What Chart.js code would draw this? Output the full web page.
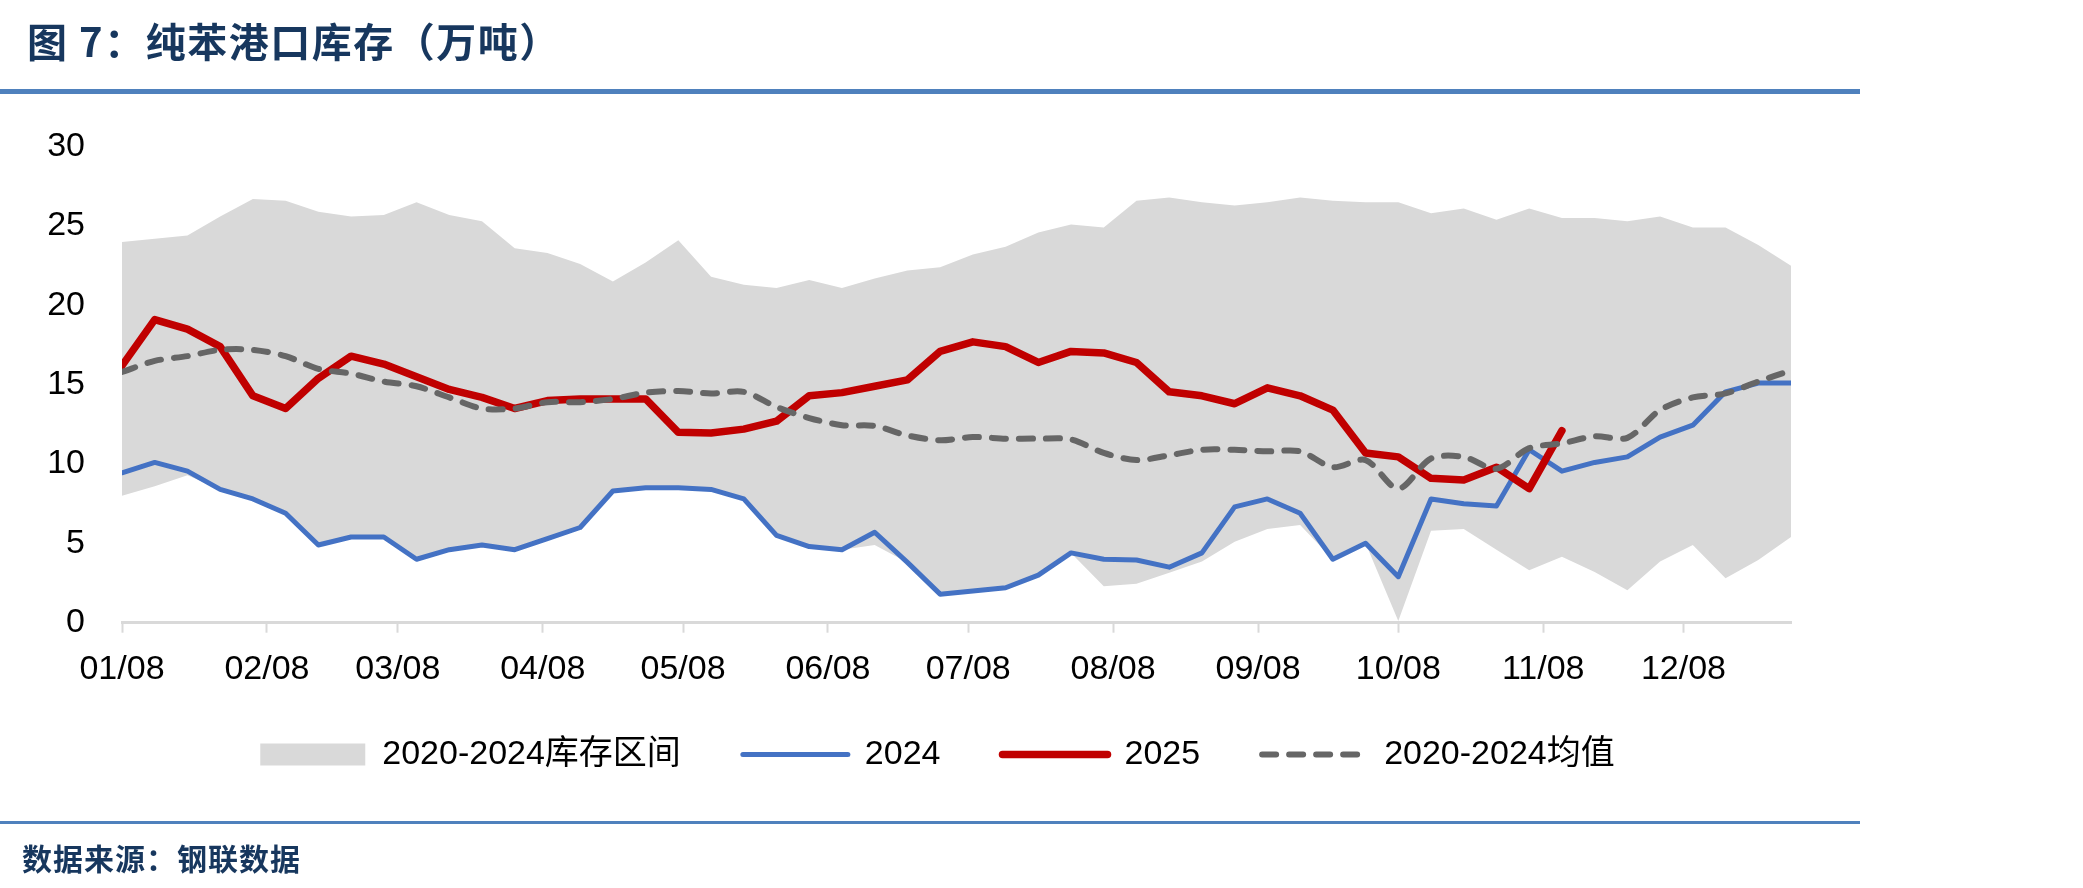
<!DOCTYPE html>
<html>
<head>
<meta charset="utf-8">
<script src="https://cdn.jsdelivr.net/npm/chart.js@4.4.1/dist/chart.umd.min.js"></script>
<style>
  body { margin: 0; width: 2083px; height: 888px; background: #fff; position: relative; overflow: hidden; }
  #wrap { position: absolute; left: 0; top: 0; width: 2083px; height: 888px; }
  #title { position: absolute; left: 27px; top: 16px; font: bold 40px "Noto Sans CJK SC", sans-serif; line-height: 48px; letter-spacing: 1.5px; color: #17375E; white-space: nowrap; }
  #rule1 { position: absolute; left: 0; top: 89px; width: 1860px; height: 5px; background: #4F81BD; }
  #rule2 { position: absolute; left: 0; top: 821px; width: 1860px; height: 3px; background: #4F81BD; }
  #source { position: absolute; left: 22px; top: 838px; font: bold 30px "Noto Sans CJK SC", sans-serif; line-height: 38px; letter-spacing: 1px; color: #17375E; white-space: nowrap; }
</style>
</head>
<body>
<div id="wrap"><canvas id="chart"></canvas></div>
<div id="title">图 7：纯苯港口库存（万吨）</div>
<div id="rule1"></div>
<div id="rule2"></div>
<div id="source">数据来源：钢联数据</div>
<script>
// weekly observation dates (MM/DD)
const weekDates = ['01/08','01/15','01/22','01/29','02/05','02/12','02/19','02/26','03/05','03/12',
  '03/19','03/26','04/02','04/09','04/16','04/23','04/30','05/07','05/14','05/21',
  '05/28','06/04','06/11','06/18','06/25','07/02','07/09','07/16','07/23','07/30',
  '08/06','08/13','08/20','08/27','09/03','09/10','09/17','09/24','10/01','10/08',
  '10/15','10/22','10/29','11/05','11/12','11/19','11/26','12/03','12/10','12/17',
  '12/24','12/31'];
const tickDates = ['01/08','02/08','03/08','04/08','05/08','06/08','07/08','08/08','09/08','10/08','11/08','12/08'];

// 2020-2024 range (max / min)
const upperBand = [24.0,24.2,24.4,25.6,26.7,26.6,25.9,25.6,25.7,26.5,25.7,25.3,23.6,23.3,22.6,21.5,22.7,24.1,21.8,21.3,
  21.1,21.6,21.1,21.7,22.2,22.4,23.2,23.7,24.6,25.1,24.9,26.6,26.8,26.5,26.3,26.5,26.8,26.6,26.5,26.5,
  25.8,26.1,25.4,26.1,25.5,25.5,25.3,25.6,24.9,24.9,23.8,22.5];
const lowerBand = [8.0,8.6,9.3,8.4,7.8,6.9,4.9,5.4,5.4,4.0,4.6,4.9,4.6,5.3,6.0,8.3,8.5,8.5,8.4,7.8,
  5.5,4.8,4.6,4.9,3.8,1.8,2.0,2.2,3.0,4.4,2.3,2.45,3.15,3.85,5.1,5.9,6.15,4.0,5.0,0.1,
  5.8,5.9,4.6,3.3,4.15,3.2,2.05,3.85,4.9,2.8,3.95,5.4];
const series2024 = [9.45,10.1,9.55,8.4,7.8,6.9,4.9,5.4,5.4,4.0,4.6,4.9,4.6,5.3,6.0,8.3,8.5,8.5,8.4,7.8,
  5.5,4.8,4.6,5.7,3.8,1.8,2.0,2.2,3.0,4.4,4.0,3.95,3.5,4.4,7.3,7.8,6.9,4.0,5.0,2.9,
  7.8,7.5,7.35,10.9,9.55,10.1,10.45,11.7,12.45,14.55,15.1,15.1];
const series2025 = [16.2,19.1,18.5,17.4,14.3,13.5,15.4,16.8,16.3,15.5,14.7,14.2,13.5,14.0,14.1,14.1,14.1,12.0,11.95,12.2,
  12.7,14.3,14.5,14.9,15.3,17.1,17.7,17.4,16.4,17.1,17.0,16.4,14.55,14.3,13.8,14.8,14.3,13.4,10.7,10.45,
  9.1,9.0,9.8,8.45,12.1];
const meanSeries = [15.8,16.5,16.8,17.2,17.2,16.8,16.0,15.7,15.2,14.9,14.2,13.5,13.5,13.9,13.9,14.1,14.5,14.6,14.45,14.55,
  13.6,12.9,12.45,12.4,11.8,11.5,11.7,11.6,11.6,11.55,10.7,10.25,10.55,10.9,10.9,10.8,10.8,9.8,10.25,8.45,
  10.35,10.45,9.7,11.0,11.3,11.75,11.65,13.4,14.2,14.45,15.2,15.9];

// days since 01/08
function dayOf(s) {
  const [m, d] = s.split('/').map(Number);
  return (Date.UTC(2025, m - 1, d) - Date.UTC(2025, 0, 8)) / 86400000;
}
const toPoints = vals => vals.map((v, i) => ({ x: dayOf(weekDates[i]), y: v }));
const tickDays = tickDates.map(dayOf);

Chart.defaults.font.family = '"Liberation Sans", "Noto Sans CJK SC", sans-serif';
Chart.defaults.font.size = 34;
Chart.defaults.color = '#000';

const legendOrder = ['2020-2024库存区间', '2024', '2025', '2020-2024均值'];

// nudge the legend so it sits where the original one does
const legendShift = {
  id: 'legendShift',
  afterLayout(chart) {
    const lg = chart.legend;
    lg.left = 84;
    lg.top -= 17.2;
    lg.bottom -= 17.2;
  }
};

new Chart(document.getElementById('chart').getContext('2d'), {
  type: 'line',
  data: {
    datasets: [
      { label: '2020-2024均值', data: toPoints(meanSeries), borderColor: '#666666', borderWidth: 6,
        borderDash: [14, 13], borderCapStyle: 'round', tension: 0.3, pointRadius: 0, pointStyle: 'line', fill: false },
      { label: '2025', data: toPoints(series2025), borderColor: '#C00000', borderWidth: 7.5,
        borderCapStyle: 'round', borderJoinStyle: 'round', pointRadius: 0, pointStyle: 'line', fill: false },
      { label: '2024', data: toPoints(series2024), borderColor: '#4472C4', borderWidth: 5,
        borderCapStyle: 'round', borderJoinStyle: 'round', pointRadius: 0, pointStyle: 'line', fill: false },
      { label: '2020-2024库存区间', data: toPoints(upperBand), backgroundColor: '#D9D9D9', borderColor: 'rgba(0,0,0,0)',
        borderWidth: 0, pointRadius: 0, pointStyle: 'rect', fill: '+1' },
      { label: '', data: toPoints(lowerBand), borderColor: 'rgba(0,0,0,0)', borderWidth: 0, pointRadius: 0, fill: false }
    ]
  },
  options: {
    responsive: true,
    maintainAspectRatio: false,
    animation: false,
    layout: { padding: { left: 47, top: 146.7, right: 292, bottom: 89.3 } },
    plugins: {
      tooltip: { enabled: false },
      legend: {
        position: 'bottom',
        labels: {
          usePointStyle: true,
          pointStyleWidth: 105,
          boxHeight: 22,
          padding: 62,
          font: { size: 34 },
          generateLabels: chart => chart.data.datasets
            .map((ds, i) => ({
              text: ds.label, datasetIndex: i, hidden: false, fontColor: '#000',
              fillStyle: ds.backgroundColor || 'rgba(0,0,0,0)', strokeStyle: ds.borderColor,
              lineWidth: ds.borderWidth, lineDash: ds.borderDash || [], lineCap: 'round',
              pointStyle: ds.pointStyle
            }))
            .filter(l => l.text)
            .sort((a, b) => legendOrder.indexOf(a.text) - legendOrder.indexOf(b.text))
        }
      }
    },
    scales: {
      x: {
        type: 'linear',
        min: 0,
        max: dayOf(weekDates[weekDates.length - 1]),
        afterBuildTicks: axis => { axis.ticks = tickDays.map(v => ({ value: v })); },
        afterFit: axis => { axis.height = 70; },
        ticks: {
          autoSkip: false, maxRotation: 0, padding: 17,
          callback: (value, index) => tickDates[index]
        },
        grid: { drawOnChartArea: false, drawTicks: true, tickLength: 10, tickWidth: 2, tickColor: '#D9D9D9' },
        border: { color: '#D9D9D9', width: 3 }
      },
      y: {
        min: 0,
        max: 30,
        afterFit: axis => { axis.width = 75; },
        ticks: { stepSize: 5, padding: 37 },
        grid: { display: false, drawTicks: false },
        border: { display: false }
      }
    }
  },
  plugins: [legendShift]
});
</script>
</body>
</html>
